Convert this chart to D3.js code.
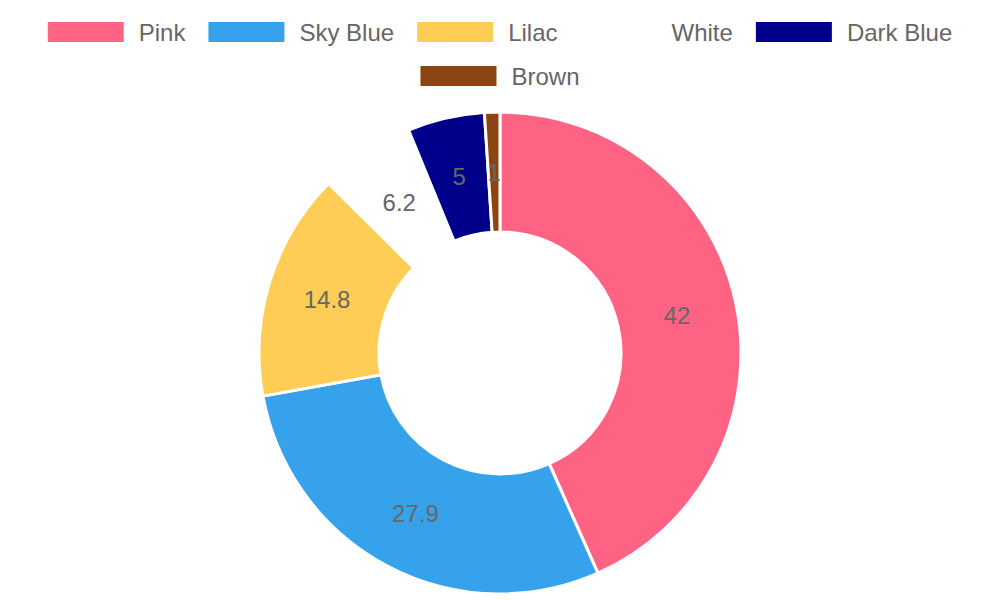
<!DOCTYPE html>
<html><head><meta charset="utf-8">
<script src="https://cdn.jsdelivr.net/npm/d3@7"></script>
<style>html,body{margin:0;padding:0;background:#fff;}svg{display:block;font-family:"Liberation Sans",Arial,sans-serif;}</style>
</head><body>
<svg id="c" width="1000" height="600"></svg>
<script>
const categories = ["Pink", "Sky Blue", "Lilac", "White", "Dark Blue", "Brown"];
const values = [42, 27.9, 14.8, 6.2, 5, 1];
const colors = ["#ff6384", "#36a2eb", "#ffcd56", "#ffffff", "#00008b", "#8b4513"];

const svg = d3.select("#c");
const W = 1000, H = 600;
const cx = 500, cy = 353, outerR = 241, innerR = 121;

// Legend
const legend = svg.append("g");
const rows = [[0,1,2,3,4],[5]];
const boxW = 76, boxH = 20, boxGap = 15, itemGap = 23, fontSize = 24;
rows.forEach((row, ri) => {
  const y = 22 + ri * 44;
  const items = row.map(i => {
    const g = legend.append("g");
    g.append("rect").attr("width", boxW).attr("height", boxH).attr("fill", colors[i]);
    const t = g.append("text").attr("x", boxW + boxGap).attr("y", boxH/2).attr("dy", "0.36em")
      .attr("font-size", fontSize).attr("fill", "#666").text(categories[i]);
    return {g, w: boxW + boxGap + t.node().getComputedTextLength()};
  });
  const total = d3.sum(items, d => d.w) + itemGap * (items.length - 1);
  let x = (W - total) / 2;
  items.forEach(it => { it.g.attr("transform", `translate(${x},${y})`); x += it.w + itemGap; });
});

// Doughnut
const pie = d3.pie().sort(null).value(d => d.v);
const data = pie(categories.map((c, i) => ({c, v: values[i], col: colors[i]})));
const arc = d3.arc().innerRadius(innerR).outerRadius(outerR);
const g = svg.append("g").attr("transform", `translate(${cx},${cy})`);
g.selectAll("path").data(data).join("path")
  .attr("d", arc).attr("fill", d => d.data.col)
  .attr("stroke", "#fff").attr("stroke-width", 3).attr("stroke-linejoin", "round");
g.selectAll("text").data(data).join("text")
  .attr("transform", d => `translate(${arc.centroid(d)})`)
  .attr("text-anchor", "middle").attr("dy", "0.36em")
  .attr("font-size", 24).attr("fill", "#666")
  .text(d => d.data.v);
</script>
</body></html>
